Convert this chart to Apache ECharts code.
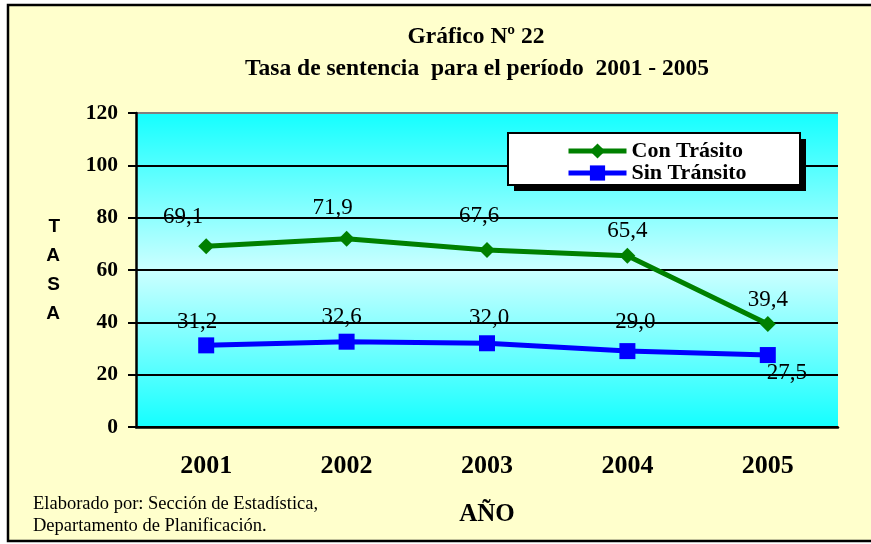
<!DOCTYPE html>
<html>
<head>
<meta charset="utf-8">
<script src="https://cdn.jsdelivr.net/npm/echarts@6/dist/echarts.min.js"></script>
<style>
  html, body { margin: 0; padding: 0; background: #fff; }
  #chart { width: 871px; height: 544px; }
</style>
</head>
<body>
<div id="chart"></div>
<script>
// data
const years = ["2001", "2002", "2003", "2004", "2005"];
const conTransito = [69.1, 71.9, 67.6, 65.4, 39.4];
const sinTransito = [31.2, 32.6, 32.0, 29.0, 27.5];
const yTicks = [0, 20, 40, 60, 80, 100, 120];

// label nudges (px from the point)
const conOffsets = [[-23, -29], [-14, -31], [-8, -34], [0, -25], [0, -24]];
const sinOffsets = [[-9, -23], [-5, -25], [2, -25], [8, -29], [19, 18]];

const serif = '"Liberation Serif", "Times New Roman", serif';

function fmt(v) {
  return v.toFixed(1).replace(".", ",");
}

function withLabels(values, offsets) {
  return values.map((v, i) => ({
    value: v,
    label: { offset: offsets[i] }
  }));
}

const myChart = echarts.init(document.getElementById("chart"));

const option = {
  backgroundColor: "#ffffff",
  animation: false,
  graphic: [
    {
      type: "rect",
      z: -10,
      shape: { x: 8, y: 5, width: 900, height: 536 },
      style: { fill: "#FFFFCC", stroke: "#000", lineWidth: 2.5 }
    },
    // legend box: drop shadow + frame
    {
      type: "rect",
      z: 3,
      shape: { x: 514, y: 139, width: 292, height: 52 },
      style: { fill: "#000" }
    },
    {
      type: "rect",
      z: 3,
      shape: { x: 508, y: 133, width: 292, height: 52 },
      style: { fill: "#fff", stroke: "#000", lineWidth: 2 }
    },
    {
      type: "text",
      style: {
        text: "Gráfico Nº 22",
        x: 476, y: 37,
        textAlign: "center", textVerticalAlign: "middle",
        font: "bold 23.5px " + serif, fill: "#000"
      }
    },
    {
      type: "text",
      style: {
        text: "Tasa de sentencia  para el período  2001 - 2005",
        x: 477, y: 69,
        textAlign: "center", textVerticalAlign: "middle",
        font: "bold 23.5px " + serif, fill: "#000"
      }
    },
    {
      type: "text",
      style: {
        text: "Elaborado por: Sección de Estadística,",
        x: 33, y: 504,
        textAlign: "left", textVerticalAlign: "middle",
        font: "18.5px " + serif, fill: "#000"
      }
    },
    {
      type: "text",
      style: {
        text: "Departamento de Planificación.",
        x: 33, y: 526,
        textAlign: "left", textVerticalAlign: "middle",
        font: "18.5px " + serif, fill: "#000"
      }
    }
  ],
  legend: {
    orient: "vertical",
    left: 508,
    top: 133,
    z: 5,
    itemWidth: 58,
    itemHeight: 19,
    itemGap: 0,
    padding: [7, 62, 7, 58],
    lineStyle: { width: 5 },
    textStyle: {
      fontFamily: serif,
      fontWeight: "bold",
      fontSize: 22,
      lineHeight: 19,
      color: "#000"
    }
  },
  grid: {
    left: 136,
    right: 33,
    top: 113,
    bottom: 117,
    show: true,
    borderWidth: 0,
    backgroundColor: {
      type: "linear",
      x: 0, y: 0, x2: 0, y2: 1,
      colorStops: [
        { offset: 0, color: "#14FFFF" },
        { offset: 0.5, color: "#CCFFFF" },
        { offset: 1, color: "#14FFFF" }
      ]
    }
  },
  xAxis: {
    type: "category",
    data: years,
    boundaryGap: true,
    name: "AÑO",
    nameLocation: "middle",
    nameGap: 75,
    nameTextStyle: { fontFamily: serif, fontWeight: "bold", fontSize: 25, color: "#000" },
    axisLine: { lineStyle: { color: "#000", width: 2.5 } },
    axisTick: { length: 8, lineStyle: { color: "#000", width: 2 } },
    axisLabel: {
      margin: 26,
      fontFamily: serif,
      fontWeight: "bold",
      fontSize: 26,
      color: "#000"
    },
    splitLine: { show: false }
  },
  yAxis: {
    type: "value",
    min: yTicks[0],
    max: yTicks[yTicks.length - 1],
    interval: yTicks[1] - yTicks[0],
    name: "T\nA\nS\nA",
    nameLocation: "middle",
    nameRotate: 0,
    nameGap: 76,
    nameTextStyle: {
      fontFamily: '"Liberation Sans", Arial, sans-serif',
      fontWeight: "bold",
      fontSize: 19,
      lineHeight: 29,
      color: "#000"
    },
    axisLine: { show: true, lineStyle: { color: "#000", width: 2.5 } },
    axisTick: { show: true, length: 8, lineStyle: { color: "#000", width: 2 } },
    axisLabel: {
      margin: 18,
      fontFamily: serif,
      fontWeight: "bold",
      fontSize: 21.5,
      color: "#000"
    },
    splitLine: {
      show: true,
      lineStyle: {
        color: ["#000", "#000", "#000", "#000", "#000", "#000", "#808080"],
        width: 2
      }
    }
  },
  series: [
    {
      name: "Con Trásito",
      type: "line",
      data: withLabels(conTransito, conOffsets),
      symbol: "diamond",
      symbolSize: 16,
      itemStyle: { color: "#008000" },
      lineStyle: { color: "#008000", width: 5 },
      label: {
        show: true,
        position: "inside",
        formatter: p => fmt(p.value),
        fontFamily: serif,
        fontSize: 23,
        color: "#000"
      },
      z: 3
    },
    {
      name: "Sin Tránsito",
      type: "line",
      data: withLabels(sinTransito, sinOffsets),
      symbol: "rect",
      symbolSize: 16,
      itemStyle: { color: "#0000FF" },
      lineStyle: { color: "#0000FF", width: 5 },
      label: {
        show: true,
        position: "inside",
        formatter: p => fmt(p.value),
        fontFamily: serif,
        fontSize: 23,
        color: "#000"
      },
      z: 3
    }
  ]
};

myChart.setOption(option);
</script>
</body>
</html>
